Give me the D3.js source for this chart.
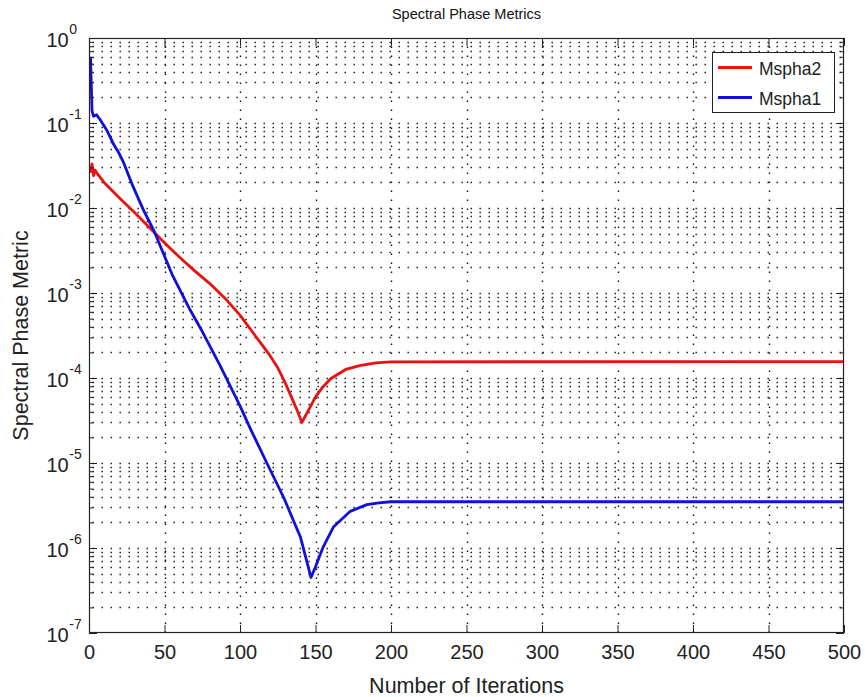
<!DOCTYPE html>
<html>
<head>
<meta charset="utf-8">
<script src="https://cdn.jsdelivr.net/npm/d3@7"></script>
<style>
  html, body { margin: 0; padding: 0; background: #fff; }
  svg { display: block; font-family: Arial, "Liberation Sans", sans-serif; }
</style>
</head>
<body>
<svg id="chart" width="865" height="697"></svg>
<script>
// Iteration counts and metric values for each series
const mspha2Iter = [1, 2, 3, 4, 5, 10, 20, 30, 40, 50, 60, 70, 80, 90, 100, 110, 115, 120, 125, 130, 134, 138, 141, 146, 150, 155, 160, 170, 180, 190, 200, 500];
const mspha2Vals = [0.026, 0.033, 0.024, 0.028, 0.026, 0.020, 0.0132, 0.0089, 0.0059, 0.0039, 0.00263, 0.00182, 0.00129, 8.7e-4, 5.5e-4, 3.16e-4, 2.4e-4, 1.82e-4, 1.32e-4, 8.7e-5, 6.0e-5, 4.1e-5, 3.0e-5, 4.4e-5, 6.0e-5, 7.9e-5, 9.8e-5, 1.26e-4, 1.41e-4, 1.51e-4, 1.55e-4, 1.56e-4];

const mspha1Iter = [1, 2, 3, 5, 7, 12, 16, 20, 23, 29, 36, 43, 55, 67, 74, 87, 100, 107, 118, 129, 140, 147, 150, 155, 162, 173, 184, 192, 200, 500];
const mspha1Vals = [0.6, 0.14, 0.12, 0.125, 0.112, 0.081, 0.0575, 0.0437, 0.0339, 0.0182, 0.0095, 0.0054, 0.00166, 6.3e-4, 3.8e-4, 1.38e-4, 4.7e-5, 2.5e-5, 9.8e-6, 3.9e-6, 1.35e-6, 4.5e-7, 6.0e-7, 1.02e-6, 1.78e-6, 2.7e-6, 3.24e-6, 3.4e-6, 3.5e-6, 3.5e-6];

// Axis ticks
const xTicks = [0, 50, 100, 150, 200, 250, 300, 350, 400, 450, 500];
const yExponents = [0, -1, -2, -3, -4, -5, -6, -7];

const seriesNames = ["Mspha2", "Mspha1"];
const seriesColors = ["#ec1010", "#1010d8"];

const svg = d3.select("#chart");
const L = 89, R = 844, T = 38, B = 633;

const x = d3.scaleLinear().domain([0, 500]).range([L, R]);
const y = d3.scaleLog().domain([1e-7, 1]).range([B, T]);

const majorY = yExponents.map(e => Math.pow(10, e));
const minorY = [];
for (let e = -7; e < 0; e++) {
  for (let m = 2; m <= 9; m++) minorY.push(m * Math.pow(10, e));
}

// Dotted grid
const grid = svg.append("g").attr("class", "grid")
  .attr("stroke", "#111").attr("stroke-width", 1.4)
  .attr("stroke-dasharray", "1.4 7.6").attr("fill", "none");

grid.selectAll("line.h")
  .data(majorY.concat(minorY).filter(v => v > 1e-7 && v < 1))
  .join("line").attr("class", "h")
  .attr("x1", L).attr("x2", R)
  .attr("stroke-dashoffset", -3.5)
  .attr("y1", d => Math.round(y(d)) + 0.5).attr("y2", d => Math.round(y(d)) + 0.5);

grid.selectAll("line.v")
  .data(xTicks.filter(v => v > 0 && v < 500))
  .join("line").attr("class", "v")
  .attr("y1", B).attr("y2", T)
  .attr("x1", d => Math.round(x(d)) + 0.5).attr("x2", d => Math.round(x(d)) + 0.5);

// Series lines
const line = d3.line().x(d => x(d[0])).y(d => y(d[1]));
const seriesData = [
  d3.zip(mspha2Iter, mspha2Vals),
  d3.zip(mspha1Iter, mspha1Vals)
];
svg.append("g").selectAll("path")
  .data(seriesData)
  .join("path")
  .attr("d", line)
  .attr("fill", "none")
  .attr("stroke", (d, i) => seriesColors[i])
  .attr("stroke-width", 2.8)
  .attr("stroke-linejoin", "round");

// Axes with inward ticks
function styleAxis(g) {
  g.select(".domain").remove();
  g.selectAll(".tick line").attr("stroke", "#222").attr("stroke-width", 1);
}

const xBottom = svg.append("g").attr("transform", `translate(0,${B})`)
  .call(d3.axisBottom(x).tickValues(xTicks).tickSize(-8).tickPadding(12).tickFormat(d3.format("d")));
styleAxis(xBottom);
xBottom.selectAll("text").attr("font-size", 20).attr("fill", "#222")
  .attr("font-family", "Arial, 'Liberation Sans', sans-serif");

const xTop = svg.append("g").attr("transform", `translate(0,${T})`)
  .call(d3.axisTop(x).tickValues(xTicks).tickSize(-8).tickFormat(""));
styleAxis(xTop);

const yLeft = svg.append("g").attr("transform", `translate(${L},0)`)
  .call(d3.axisLeft(y).tickValues(majorY).tickSize(-8).tickFormat(""));
styleAxis(yLeft);
const yLeftMinor = svg.append("g").attr("transform", `translate(${L},0)`)
  .call(d3.axisLeft(y).tickValues(minorY).tickSize(-4).tickFormat(""));
styleAxis(yLeftMinor);
const yRight = svg.append("g").attr("transform", `translate(${R},0)`)
  .call(d3.axisRight(y).tickValues(majorY).tickSize(-8).tickFormat(""));
styleAxis(yRight);
const yRightMinor = svg.append("g").attr("transform", `translate(${R},0)`)
  .call(d3.axisRight(y).tickValues(minorY).tickSize(-4).tickFormat(""));
styleAxis(yRightMinor);

// Power-of-ten labels on the y axis
const yLabels = svg.append("g").attr("fill", "#222");
yExponents.forEach(e => {
  const yy = y(Math.pow(10, e));
  const t = yLabels.append("text")
    .attr("x", 46.5).attr("y", yy + 8.5)
    .attr("font-size", 20);
  t.append("tspan").text("10");
  t.append("tspan").attr("font-size", 14).attr("dy", -13).attr("dx", 0.5).text(String(e));
});

// Plot frame
svg.append("rect")
  .attr("x", L + 0.5).attr("y", T + 0.5)
  .attr("width", R - L - 1).attr("height", B - T - 1)
  .attr("fill", "none").attr("stroke", "#222").attr("stroke-width", 1.2);

// Titles
svg.append("text")
  .attr("x", (L + R) / 2).attr("y", 19)
  .attr("text-anchor", "middle").attr("font-size", 14.5).attr("fill", "#111")
  .text("Spectral Phase Metrics");
svg.append("text")
  .attr("x", (L + R) / 2).attr("y", 693)
  .attr("text-anchor", "middle").attr("font-size", 21.5).attr("fill", "#222")
  .text("Number of Iterations");
svg.append("text")
  .attr("transform", `translate(28,${(T + B) / 2}) rotate(-90)`)
  .attr("text-anchor", "middle").attr("font-size", 21.5).attr("fill", "#222")
  .text("Spectral Phase Metric");

// Legend
const lg = svg.append("g");
lg.append("rect")
  .attr("x", 712.5).attr("y", 52.5).attr("width", 122).attr("height", 60)
  .attr("fill", "#fff").attr("stroke", "#222").attr("stroke-width", 1);
seriesNames.forEach((name, i) => {
  const ly = 67.5 + i * 30;
  lg.append("line")
    .attr("x1", 718).attr("x2", 752).attr("y1", ly).attr("y2", ly)
    .attr("stroke", seriesColors[i]).attr("stroke-width", 2.8);
  lg.append("text")
    .attr("x", 759).attr("y", ly + 7)
    .attr("font-size", 17.5).attr("fill", "#222")
    .text(name);
});
</script>
</body>
</html>
